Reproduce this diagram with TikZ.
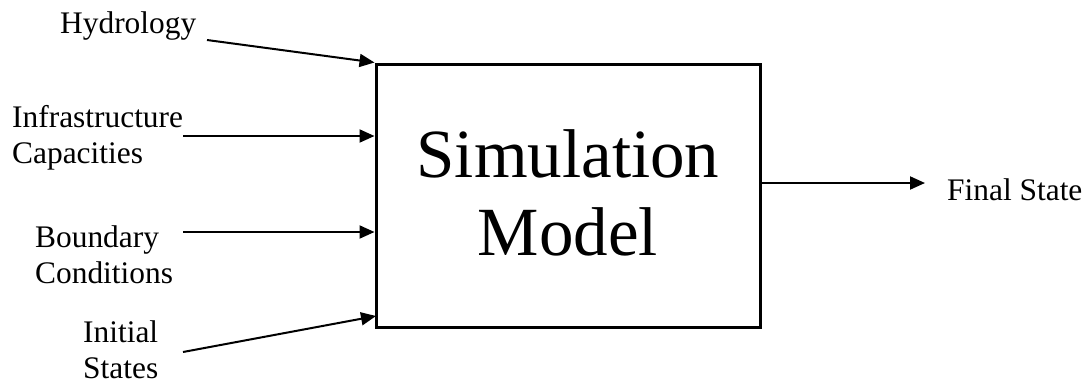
\documentclass[tikz,border=0pt]{standalone}
\usepackage{fontspec}
\setmainfont{Liberation Serif}
\usetikzlibrary{arrows.meta}
\begin{document}
\begin{tikzpicture}[x=1pt,y=-1pt,
  lbl/.style={font=\fontsize{31.4}{36}\selectfont, align=left, inner sep=0pt, anchor=base west},
  conn/.style={line width=2pt, -{Triangle[length=15pt,width=13pt]}},
  modelbox/.style={draw, line width=3pt, minimum width=384pt, minimum height=263pt, inner sep=0pt},
  titletext/.style={font=\fontsize{69}{78}\selectfont, align=center, inner sep=0pt, anchor=base}]
\useasboundingbox (0,0) rectangle (1089,384);
\node[modelbox] (model) at (568,195.5) {};
\node[titletext] (title) at (568,255) {Simulation\\Model};
\node[lbl] (hyd) at (60,33) {Hydrology};
\node[lbl] (inf) at (12,163) {Infrastructure\\Capacities};
\node[lbl] (bnd) at (35,283) {Boundary\\Conditions};
\node[lbl] (ini) at (83,378) {Initial\\States};
\node[lbl] (fin) at (947,200) {Final State};
\coordinate (s1) at (207,40);
\coordinate (s2) at (183,136);
\coordinate (s3) at (183,232);
\coordinate (s4) at (183,352);
\coordinate (e4) at (376,316);
\coordinate (o1) at (760,183);
\coordinate (o2) at (925,183);
\draw[conn] (s1) -- (model.north west);
\draw[conn] (s2) -- (s2 -| model.west);
\draw[conn] (s3) -- (s3 -| model.west);
\draw[conn] (s4) -- (e4);
\draw[conn] (o1) -- (o2);
\end{tikzpicture}
\end{document}
